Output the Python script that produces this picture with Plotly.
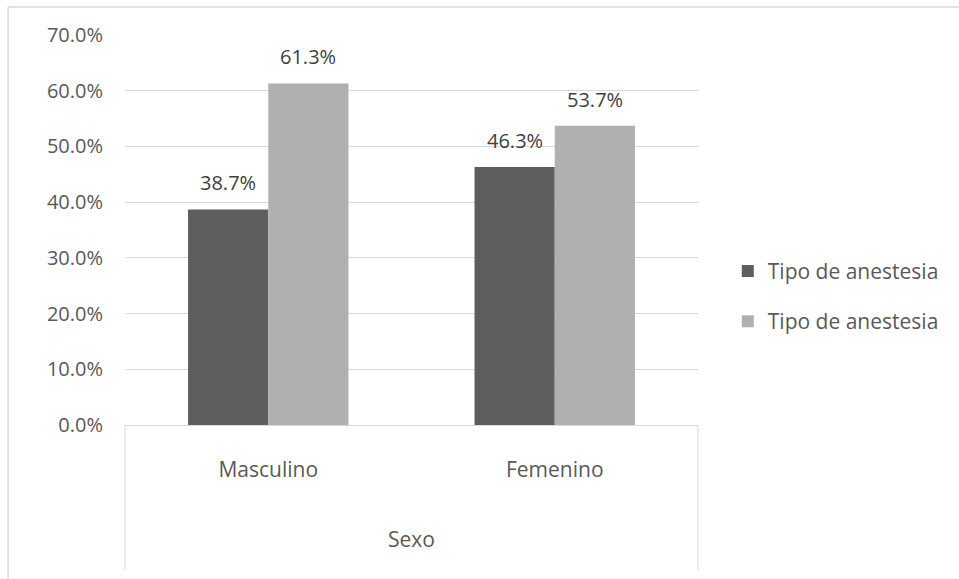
import plotly.graph_objects as go

categories = ["Masculino", "Femenino"]
series_names = ["Tipo de anestesia", "Tipo de anestesia"]
series1 = [38.7, 46.3]
series2 = [61.3, 53.7]
y_ticks = [0, 10, 20, 30, 40, 50, 60, 70]
y_tick_labels = ["0.0%", "10.0%", "20.0%", "30.0%", "40.0%", "50.0%", "60.0%", "70.0%"]

colors = ["#5e5e5e", "#b0b0b0"]
FONT = "Open Sans"
TXT = "#595959"

fig = go.Figure()
for i, (name, vals) in enumerate(zip(series_names, [series1, series2])):
    fig.add_trace(go.Bar(
        x=categories, y=vals, name=name, marker=dict(color=colors[i], line=dict(width=0)),
        legendgroup=f"g{i}", offsetgroup=str(i),
    ))

# data labels
for i, vals in enumerate([series1, series2]):
    for c, v in zip(categories, vals):
        fig.add_annotation(x=c, y=v, xref="x", yref="y", text=f"{v:.1f}%",
                           showarrow=False, yanchor="bottom", yshift=11,
                           xshift=(-40 if i == 0 else 40),
                           font=dict(family=FONT, size=20, color="#404040"))

fig.update_layout(
    width=959, height=579,
    margin=dict(l=125, r=261, t=35, b=154),
    paper_bgcolor="white", plot_bgcolor="white",
    barmode="group", bargap=0.44, bargroupgap=0,
    font=dict(family=FONT, color=TXT),
    legend=dict(x=1.052, y=0.33, xanchor="left", yanchor="middle",
                font=dict(family=FONT, size=21, color=TXT),
                tracegroupgap=20, bgcolor="rgba(0,0,0,0)"),
    showlegend=True,
)
fig.update_yaxes(range=[0, 70], tickvals=y_ticks, ticktext=y_tick_labels,
                 showgrid=True, gridcolor="#d9d9d9", gridwidth=1,
                 zeroline=False, showline=False, ticks="",
                 tickfont=dict(family=FONT, size=20, color=TXT),
                 ticklabelstandoff=21)
fig.update_xaxes(showgrid=False, zeroline=False, showline=True, linecolor="#d9d9d9",
                 ticks="", tickfont=dict(family=FONT, size=21, color=TXT),
                 ticklabelstandoff=26,
                 title=dict(text="Sexo", font=dict(family=FONT, size=21, color=TXT), standoff=50))

# category axis box lines and outer frame
for xp in [0, 1]:
    fig.add_shape(type="line", xref="paper", yref="paper", x0=xp, x1=xp, y0=0, y1=-0.372,
                  line=dict(color="#d9d9d9", width=1))
fig.add_shape(type="line", xref="paper", yref="paper", x0=-0.204, x1=1.46, y0=1.072, y1=1.072,
              line=dict(color="#d9d9d9", width=1.5))
fig.add_shape(type="line", xref="paper", yref="paper", x0=-0.204, x1=-0.204, y0=1.072, y1=-0.4,
              line=dict(color="#d9d9d9", width=1.5))

fig.write_html("out.html")
